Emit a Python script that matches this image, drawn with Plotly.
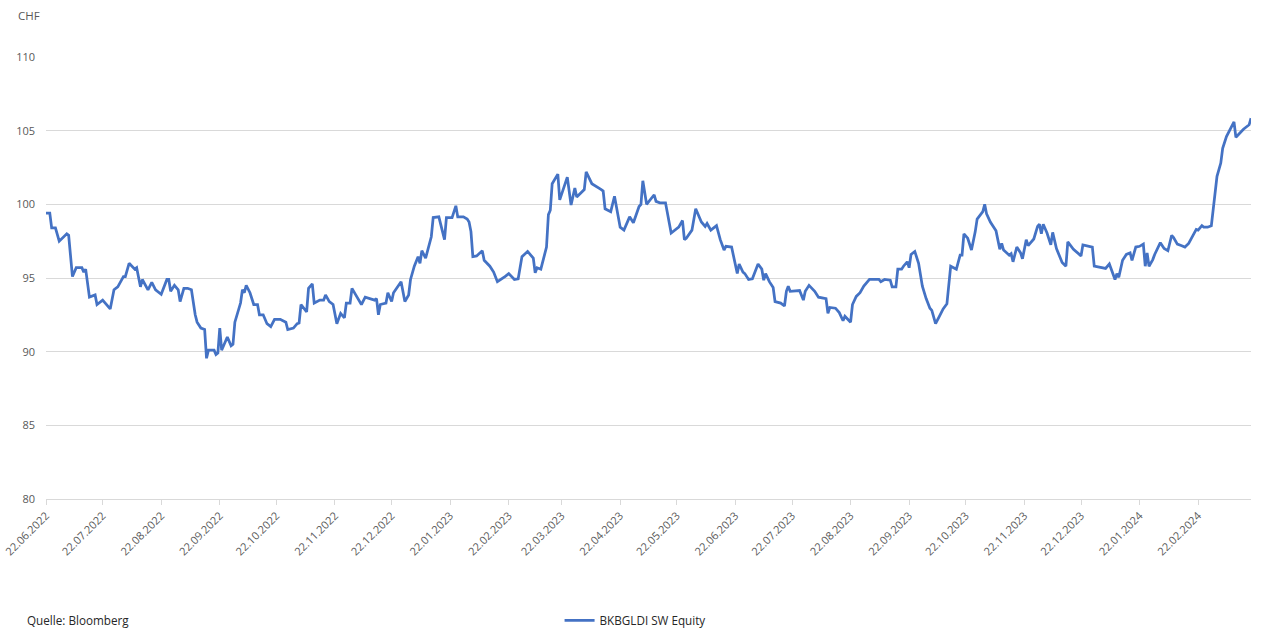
import pandas as pd
import plotly.graph_objects as go

start_date = "2022-06-22"
series_name = "BKBGLDI SW Equity"

# calendar days after 22.06.2022 for each observation
days_since_start = [
    0, 2, 3, 5, 7, 11, 12, 14, 16, 19, 20, 21, 23, 26, 27, 30, 34, 36, 38, 41,
    42, 44, 47, 48, 50, 51, 54, 56, 58, 61, 64, 65, 66, 68, 70, 71, 73, 75, 77, 79,
    80, 82, 84, 85, 86, 89, 90, 91, 92, 93, 96, 98, 99, 100, 103, 104, 105, 106, 108, 110,
    112, 113, 115, 117, 119, 121, 124, 127, 128, 131, 133, 134, 135, 138, 139, 141, 142, 145, 147, 148,
    150, 151, 152, 154, 156, 158, 159, 161, 162, 164, 167, 169, 172, 174, 175, 176, 177, 180, 181, 183,
    184, 188, 190, 192, 193, 195, 197, 198, 199, 201, 204, 205, 208, 211, 212, 215, 217, 218, 221, 223,
    224, 225, 226, 228, 231, 232, 235, 237, 239, 241, 243, 245, 248, 250, 252, 255, 258, 259, 260, 262,
    264, 265, 266, 267, 268, 271, 272, 276, 278, 280, 281, 285, 286, 289, 294, 295, 296, 299, 301, 302,
    304, 306, 309, 311, 314, 315, 316, 318, 322, 323, 325, 328, 331, 335, 337, 338, 339, 342, 344, 347,
    349, 350, 352, 355, 357, 359, 360, 363, 366, 367, 369, 370, 372, 374, 377, 379, 380, 381, 383, 385,
    386, 389, 391, 392, 393, 394, 397, 399, 401, 402, 404, 407, 409, 413, 414, 415, 418, 420, 422, 423,
    426, 427, 429, 431, 433, 436, 439, 441, 442, 444, 447, 448, 450, 451, 453, 454, 456, 457, 458, 460,
    462, 464, 466, 468, 469, 471, 473, 475, 477, 478, 479, 482, 484, 485, 486, 488, 490, 492, 493, 496,
    497, 498, 500, 503, 505, 506, 507, 510, 511, 512, 514, 516, 517, 519, 520, 523, 525, 526, 527, 528,
    530, 532, 533, 535, 538, 540, 541, 544, 546, 548, 549, 553, 554, 555, 560, 561, 563, 564, 566, 567,
    568, 570, 572, 574, 575, 577, 579, 581, 582, 583, 584, 586, 587, 590, 592, 594, 596, 597, 599, 601,
    603, 605, 607, 609, 610, 612, 613, 615, 617, 618, 619, 620, 622, 623, 625, 627, 629, 630, 632, 634,
    636, 637, 638,
]

prices_chf = [
    99.4, 99.4, 98.4, 98.4, 97.5, 98.0, 97.9, 95.1, 95.7, 95.7, 95.4, 95.6, 93.7, 93.85, 93.2, 93.5, 92.9, 94.2, 94.4, 95.1,
    95.1, 96.0, 95.6, 95.7, 94.4, 94.9, 94.2, 94.7, 94.2, 93.9, 94.9, 94.9, 94.1, 94.5, 94.2, 93.4, 94.3, 94.3, 94.2, 92.5,
    92.0, 91.6, 91.5, 89.55, 90.1, 90.1, 89.8, 89.9, 91.6, 90.1, 91.0, 90.4, 90.5, 92.0, 93.3, 94.2, 94.0, 94.5, 94.0, 93.2,
    93.2, 92.5, 92.5, 91.9, 91.7, 92.2, 92.2, 92.0, 91.5, 91.6, 91.9, 91.95, 93.2, 92.7, 94.3, 94.6, 93.3, 93.5, 93.5, 93.85,
    93.4, 93.3, 93.2, 91.9, 92.6, 92.3, 93.3, 93.3, 94.3, 93.85, 93.2, 93.7, 93.55, 93.5, 93.6, 92.5, 93.2, 93.3, 94.0, 93.4,
    94.0, 94.75, 93.4, 93.85, 94.9, 95.8, 96.45, 96.0, 96.85, 96.35, 97.8, 99.1, 99.15, 97.6, 99.1, 99.1, 99.9, 99.15, 99.15, 99.0,
    98.8, 98.15, 96.45, 96.5, 96.85, 96.2, 95.8, 95.4, 94.75, 94.9, 95.1, 95.3, 94.9, 94.95, 96.45, 96.8, 96.35, 95.35, 95.7, 95.6,
    96.55, 97.1, 99.3, 99.6, 101.4, 102.05, 100.3, 101.85, 99.95, 101.1, 100.5, 101.0, 102.2, 101.4, 101.0, 100.9, 99.7, 99.5, 100.55, 99.85,
    98.45, 98.25, 99.15, 98.75, 99.85, 100.0, 101.6, 100.0, 100.65, 100.2, 100.1, 100.1, 98.05, 98.45, 98.9, 97.6, 97.7, 98.25, 99.7, 98.8,
    98.5, 98.7, 98.25, 98.55, 97.6, 96.9, 97.15, 97.1, 95.3, 95.95, 95.4, 95.3, 94.9, 94.95, 95.95, 95.6, 94.85, 95.3, 94.75, 94.35,
    93.4, 93.3, 93.1, 94.1, 94.45, 94.1, 94.1, 94.15, 93.5, 94.1, 94.5, 94.1, 93.7, 93.6, 92.6, 93.0, 92.95, 92.65, 92.1, 92.4,
    92.0, 93.2, 93.75, 94.0, 94.45, 94.9, 94.9, 94.9, 94.75, 94.9, 94.85, 94.4, 94.4, 95.6, 95.6, 95.8, 96.1, 95.7, 96.6, 96.8,
    96.0, 94.45, 93.6, 92.95, 92.8, 91.9, 92.4, 92.9, 93.25, 94.65, 95.8, 95.6, 96.55, 96.55, 98.0, 97.7, 96.9, 98.15, 99.0, 99.5,
    100.0, 99.35, 98.8, 98.2, 96.95, 97.35, 96.9, 96.55, 96.65, 96.1, 97.1, 96.7, 96.3, 97.6, 97.2, 97.65, 98.5, 98.65, 98.0, 98.65,
    98.05, 97.25, 98.1, 97.0, 96.05, 95.8, 97.45, 96.95, 96.7, 96.5, 97.25, 97.15, 97.1, 95.8, 95.65, 95.65, 95.95, 95.6, 94.9, 95.3,
    95.05, 96.2, 96.6, 96.7, 96.2, 97.1, 97.15, 97.3, 95.8, 96.7, 95.8, 96.25, 96.6, 97.4, 97.0, 96.85, 97.9, 97.75, 97.3, 97.2,
    97.1, 97.35, 97.8, 98.3, 98.25, 98.55, 98.45, 98.45, 98.55, 99.6, 100.85, 101.9, 102.8, 103.8, 104.6, 105.15, 105.6, 104.55, 104.85, 105.1,
    105.3, 105.4, 105.85,
]

tick_dates = [
    "2022-06-22", "2022-07-22", "2022-08-22", "2022-09-22", "2022-10-22", "2022-11-22",
    "2022-12-22", "2023-01-22", "2023-02-22", "2023-03-22", "2023-04-22", "2023-05-22",
    "2023-06-22", "2023-07-22", "2023-08-22", "2023-09-22", "2023-10-22", "2023-11-22",
    "2023-12-22", "2024-01-22", "2024-02-22",
]
tick_labels = [pd.Timestamp(d).strftime("%d.%m.%Y") for d in tick_dates]
y_ticks = [80, 85, 90, 95, 100, 105, 110]

dates = pd.Timestamp(start_date) + pd.to_timedelta(days_since_start, unit="D")

FONT = "Open Sans, Liberation Sans, sans-serif"
GREY = "#595959"
GRID = "#d9d9d9"

fig = go.Figure()
fig.add_trace(go.Scatter(
    x=dates, y=prices_chf, mode="lines", name=series_name,
    line=dict(color="#4472C4", width=2.75),
))

fig.update_layout(
    width=1274, height=643,
    margin=dict(l=46, r=23, t=57, b=144, autoexpand=False),
    paper_bgcolor="white", plot_bgcolor="white",
    font=dict(family=FONT, size=11, color=GREY),
    showlegend=True,
    legend=dict(
        orientation="h", x=0.4262, xanchor="left", y=-0.2747, yanchor="middle",
        font=dict(family=FONT, size=11.7, color="#262626"),
        bgcolor="rgba(0,0,0,0)",
    ),
    xaxis=dict(
        type="date", automargin=False,
        range=[dates.min(), dates.max()],
        tickvals=tick_dates, ticktext=tick_labels, tickangle=-45,
        showgrid=False, showline=True, linecolor=GRID, linewidth=1,
        ticks="outside", ticklen=5, tickcolor=GRID,
        tickfont=dict(family=FONT, size=11, color=GREY),
        zeroline=False,
    ),
    yaxis=dict(
        range=[80, 110], tickvals=y_ticks, automargin=False,
        showgrid=True, gridcolor=GRID, gridwidth=1,
        showline=False, zeroline=False, ticks="",
        ticklabelstandoff=10,
        tickfont=dict(family=FONT, size=11, color=GREY),
    ),
    annotations=[
        dict(text="CHF", xref="paper", yref="paper", x=-0.0245, y=1.095,
             xanchor="left", yanchor="middle", showarrow=False,
             font=dict(family=FONT, size=11.5, color=GREY)),
        dict(text="Quelle: Bloomberg", xref="paper", yref="paper", x=-0.0174, y=-0.2747,
             xanchor="left", yanchor="middle", showarrow=False,
             font=dict(family=FONT, size=11.7, color="#262626")),
    ],
)

fig.write_html("out.html")
